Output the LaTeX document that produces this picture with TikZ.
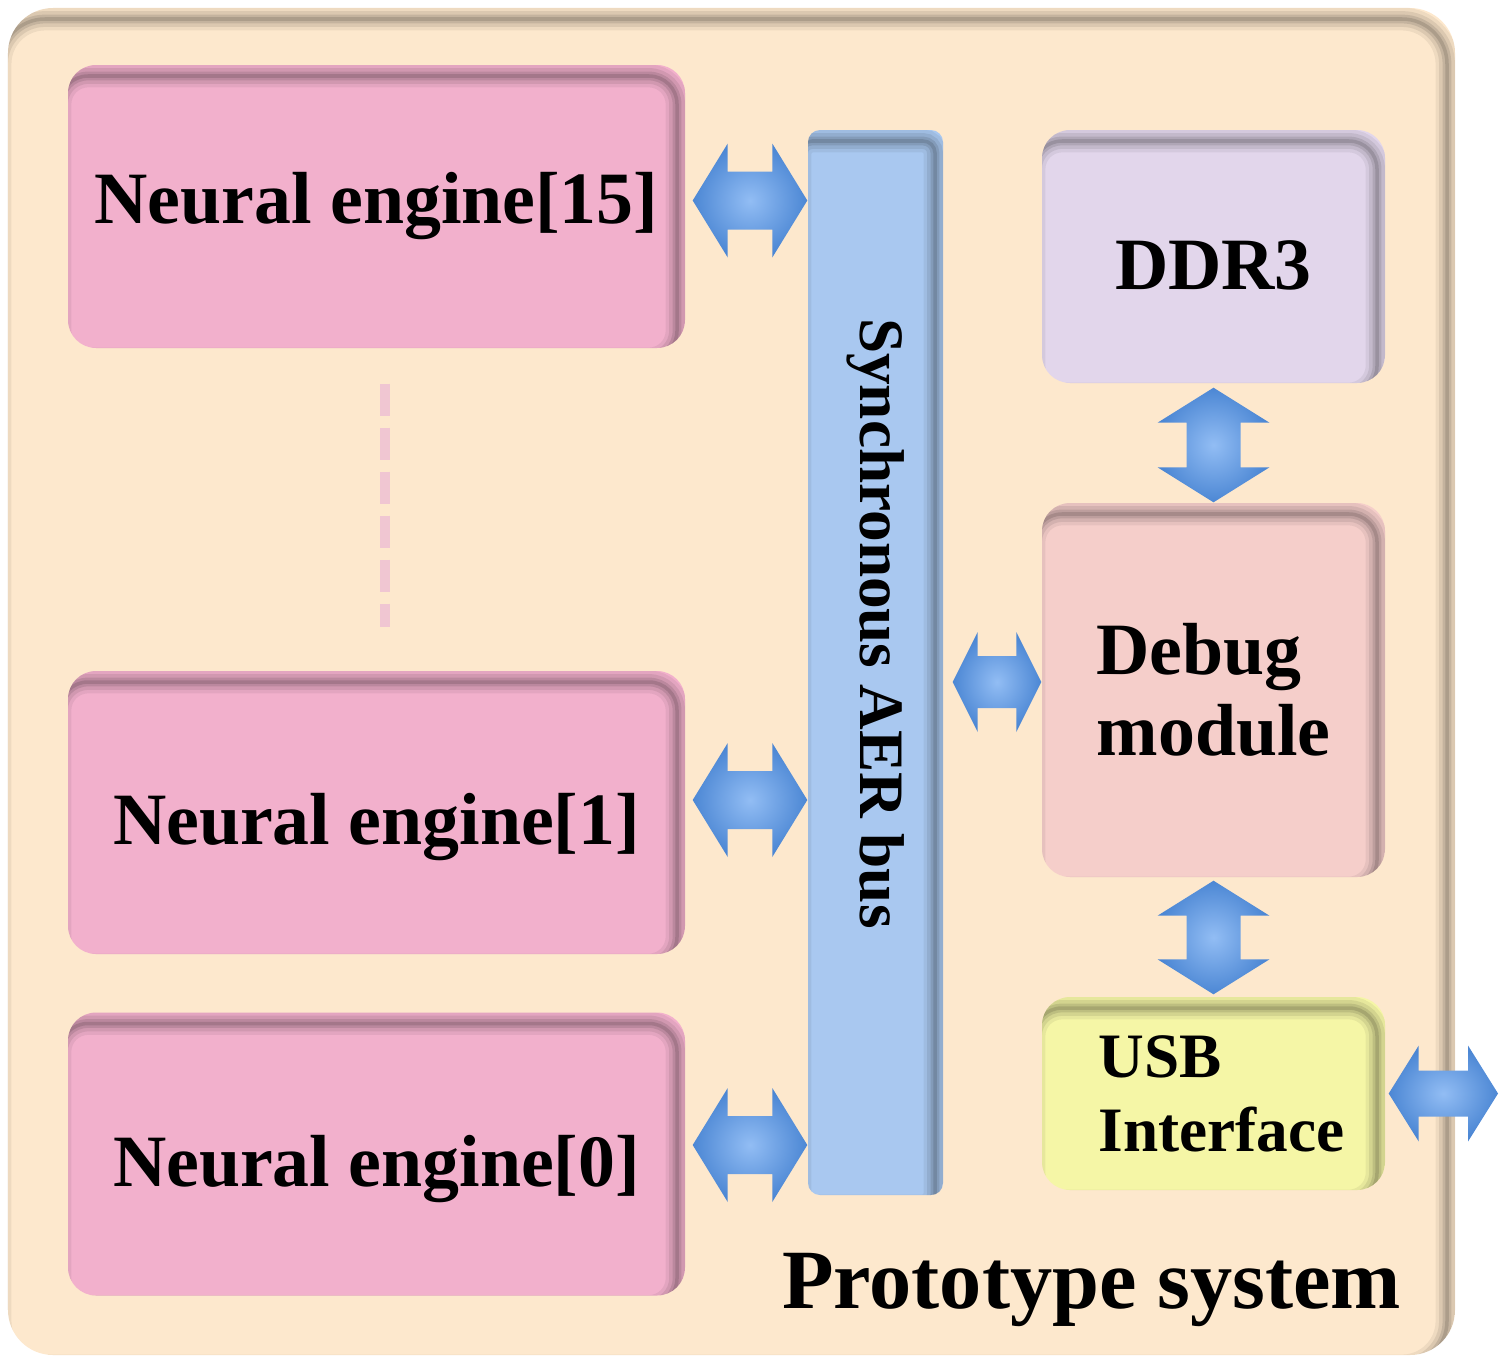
\documentclass[tikz,border=0pt]{standalone}
\usepackage{fontspec}
\setmainfont{Liberation Serif}
\usetikzlibrary{calc,positioning}
\definecolor{peach}{HTML}{FDE8CD}
\definecolor{enginepink}{HTML}{F2B0CC}
\definecolor{busblue}{HTML}{A9C8F0}
\definecolor{ddrlilac}{HTML}{E2D6EB}
\definecolor{debugrose}{HTML}{F5CECA}
\definecolor{usbyellow}{HTML}{F5F6A6}
\definecolor{dashpink}{HTML}{F0C6D2}
\definecolor{arrowlight}{HTML}{92BDF4}
\definecolor{arrowdark}{HTML}{4C87D4}
\tikzset{%
	inshadow/.style = {path picture={
		\foreach \w/\o in {6.5/0.06, 4.5/0.08, 2.5/0.1, 1/0.12}
			\draw[black, line width=\w pt, opacity=\o, rounded corners=#1]
				([shift={(-0.08,-0.11)}]path picture bounding box.south west) rectangle
				([shift={(-0.08,-0.11)}]path picture bounding box.north east);
	}},
	panel/.style    = {fill=peach, rounded corners=0.45cm, minimum width=14.47cm, minimum height=13.47cm, inshadow=0.45cm},
	box/.style      = {rounded corners=0.28cm, inner sep=0pt, text centered, inshadow=0.28cm},
	engine/.style   = {box, fill=enginepink, minimum width=6.17cm, minimum height=2.83cm, font=\fontsize{21}{23}\selectfont\bfseries},
	bus/.style      = {box, fill=busblue, rounded corners=0.12cm, minimum width=1.35cm, minimum height=10.65cm, inshadow=0.12cm},
	side/.style     = {box, fill=#1, minimum width=3.43cm, font=\fontsize{21}{23}\selectfont\bfseries},
	buslabel/.style = {rotate=-90, font=\fontsize{18}{20}\selectfont\bfseries},
	title/.style    = {font=\fontsize{24}{26}\selectfont\bfseries},
	dashline/.style = {dashpink, line width=0.1cm, dash pattern=on 0.32cm off 0.12cm},
	headlen/.store in = \headlen, headhalf/.store in = \headhalf, shafthalf/.store in = \shafthalf,
	headlen=0.35cm, headhalf=0.57cm, shafthalf=0.29cm,
	fatarrow/.style = {shade, inner color=arrowlight, outer color=arrowdark},
	hfat/.style     = {fatarrow, to path={let \p1=(\tikztostart), \p2=(\tikztotarget) in
		(\p1) -- (\x1+\headlen,\y1+\headhalf) -- (\x1+\headlen,\y1+\shafthalf) -- (\x2-\headlen,\y1+\shafthalf)
		-- (\x2-\headlen,\y1+\headhalf) -- (\x2,\y1) -- (\x2-\headlen,\y1-\headhalf) -- (\x2-\headlen,\y1-\shafthalf)
		-- (\x1+\headlen,\y1-\shafthalf) -- (\x1+\headlen,\y1-\headhalf) -- cycle}},
	vfat/.style     = {fatarrow, to path={let \p1=(\tikztostart), \p2=(\tikztotarget) in
		(\p1) -- (\x1+\headhalf,\y1-\headlen) -- (\x1+\shafthalf,\y1-\headlen) -- (\x1+\shafthalf,\y2+\headlen)
		-- (\x1+\headhalf,\y2+\headlen) -- (\x1,\y2) -- (\x1-\headhalf,\y2+\headlen) -- (\x1-\shafthalf,\y2+\headlen)
		-- (\x1-\shafthalf,\y1-\headlen) -- (\x1-\headhalf,\y1-\headlen) -- cycle}},
}

\begin{document}
\begin{tikzpicture}
	\useasboundingbox (0,0) rectangle (15.07,13.61);
	\node [panel] (outer) at (7.315,6.795) {};
	
	% neural engines
	\node [engine] (ne15) at (3.765,11.545) {Neural engine[15]};
	\node [engine] (ne1) at (3.765,5.485) {\raisebox{-0.15cm}[\height][\depth]{Neural engine[1]}};
	\node [engine] (ne0) at (3.765,2.07) {\raisebox{-0.15cm}[\height][\depth]{Neural engine[0]}};
	\draw [dashline, shorten <=0.35cm, shorten >=0.43cm] ([xshift=0.085cm]ne15.south) -- ([xshift=0.085cm]ne1.north);
	
	% bus and debug side
	\node [bus] (bus) at (8.755,6.985) {};
	\node [buslabel] (buslbl) at ([yshift=0.39cm]bus.center) {Synchronous AER bus};
	\node [side=ddrlilac, minimum height=2.53cm] (ddr) at (12.135,11.045) {\raisebox{-0.09cm}[\height][\depth]{DDR3}};
	\node [side=debugrose, minimum height=3.74cm, align=left] (dbg) at (12.135,6.71) {Debug\\module};
	\node [side=usbyellow, minimum height=1.93cm, align=left, font=\fontsize{18}{21}\selectfont\bfseries] (usb) at (12.135,2.675) {\hspace*{0.16cm}USB\\\hspace*{0.16cm}Interface};
	\coordinate (usbout) at (14.98,2.675);
	\node [title, anchor=base east] (title) at ([shift={(-0.42,0.47)}]outer.south east) {Prototype system};
	
	\path [hfat] ([shift={(0.07,0.06)}]ne15.east) to (bus.west);
	\path [hfat] ([shift={(0.07,0.125)}]ne1.east) to (bus.west);
	\path [hfat] ([shift={(0.07,0.09)}]ne0.east) to (bus.west);
	\path [hfat, headlen=0.25cm, headhalf=0.5cm, shafthalf=0.26cm] ($(bus.east |- dbg.west)+(0.09,0.08)$) to (dbg.west);
	\path [vfat, headhalf=0.56cm, shafthalf=0.27cm] ([yshift=-0.04cm]ddr.south) to (dbg.north);
	\path [vfat, headhalf=0.56cm, shafthalf=0.27cm] ([yshift=-0.03cm]dbg.south) to ([yshift=0.02cm]usb.north);
	\path [hfat, headlen=0.3cm, headhalf=0.48cm, shafthalf=0.23cm] ([xshift=0.03cm]usb.east) to (usbout);
\end{tikzpicture}
\end{document}
